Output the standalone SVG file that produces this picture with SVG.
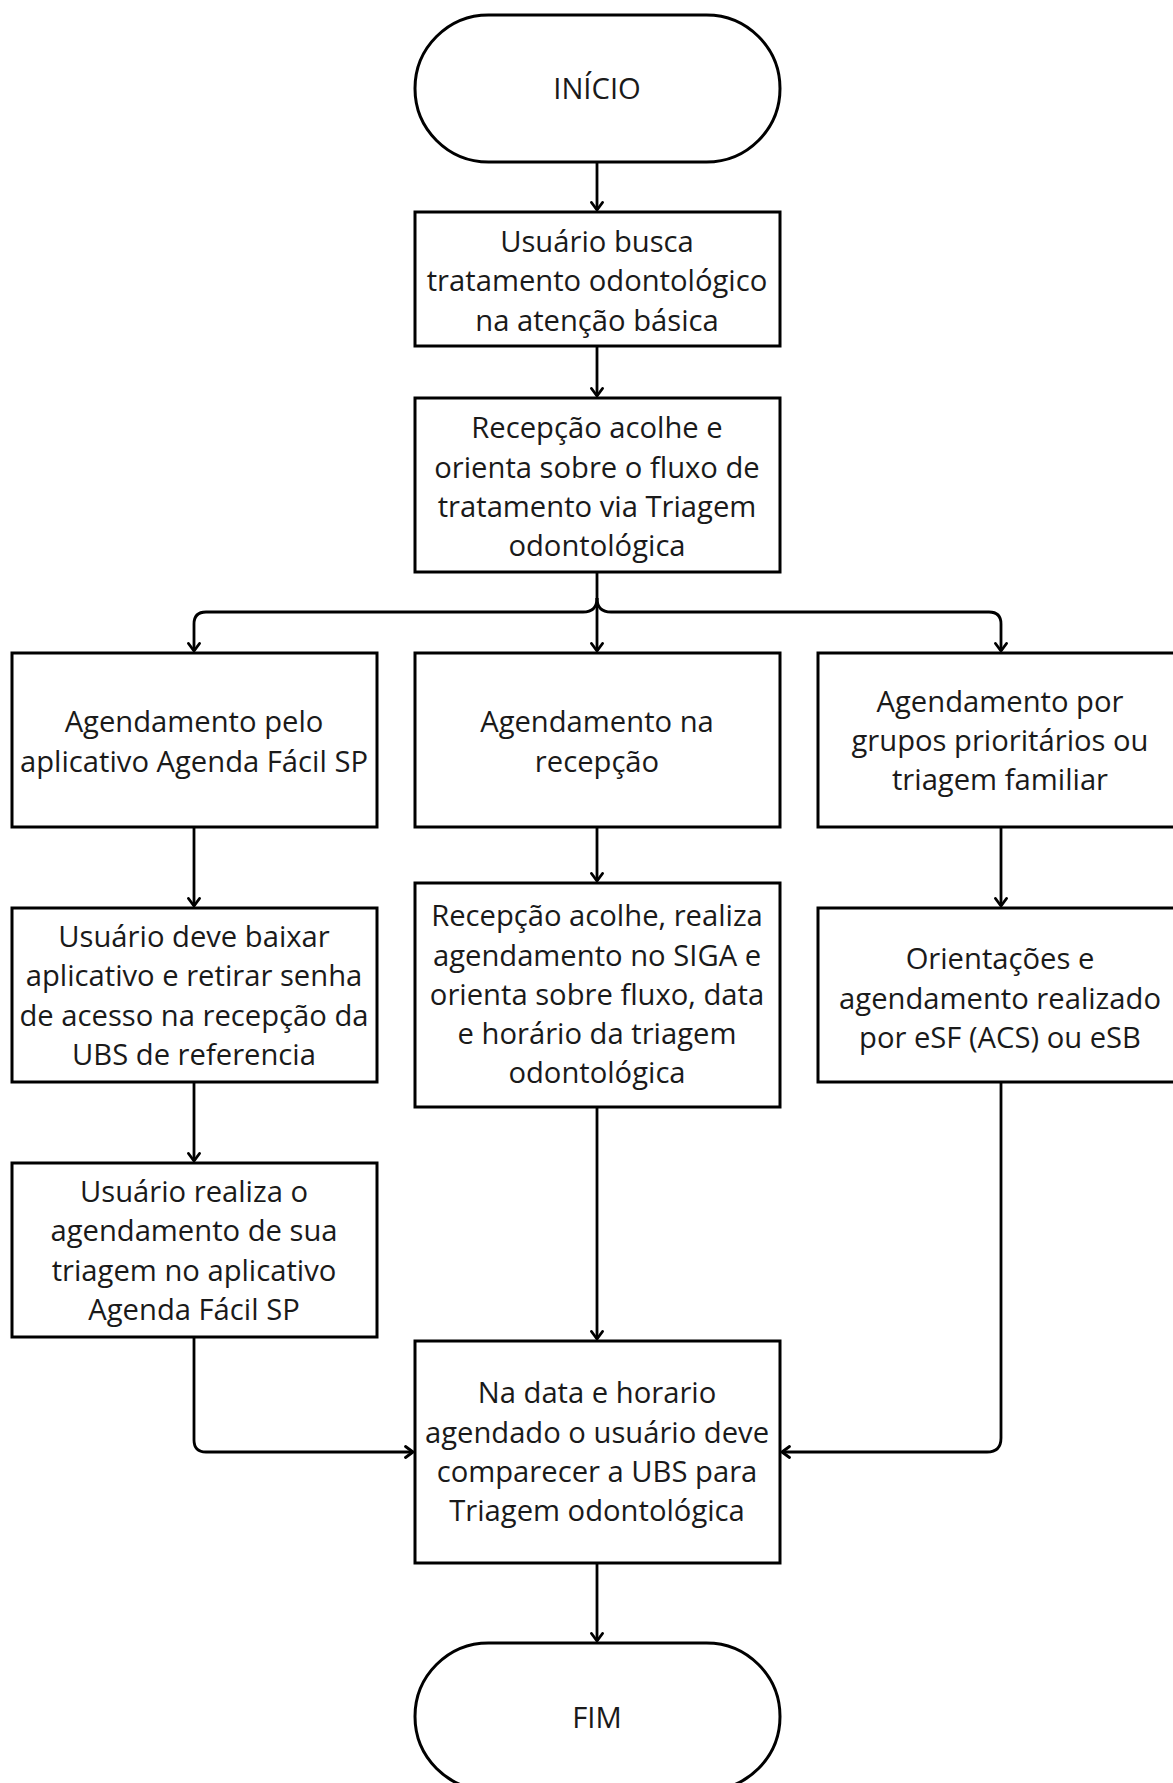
<svg xmlns="http://www.w3.org/2000/svg" width="1173" height="1783" viewBox="0 0 1173 1783">
<style>
.n{fill:#fff;stroke:#000;stroke-width:3}
.t{font-family:"Open Sans","Noto Sans",sans-serif;font-size:29.2px;fill:#1a1a1a;text-anchor:middle}
.c{fill:none;stroke:#000;stroke-width:2.8}
</style>
<defs>
<marker id="ah" viewBox="0 0 14 14" refX="11" refY="7" markerWidth="14" markerHeight="14" markerUnits="userSpaceOnUse" orient="auto">
<path d="M3.5,1.5 L11,7 L3.5,12.5" fill="none" stroke="#000" stroke-width="2.8" stroke-linecap="round" stroke-linejoin="round"/>
</marker>
</defs>
<rect width="1173" height="1783" fill="#fff"/>
<g id="connectors">
<path class="c" d="M597,162 V210" marker-end="url(#ah)"/>
<path class="c" d="M597,346 V396" marker-end="url(#ah)"/>
<path class="c" d="M597,572 V651" marker-end="url(#ah)"/>
<path class="c" d="M597,598 Q597,612 583,612 H206 Q194,612 194,624 V651" marker-end="url(#ah)"/>
<path class="c" d="M597,598 Q597,612 611,612 H989 Q1001,612 1001,624 V651" marker-end="url(#ah)"/>
<path class="c" d="M194,827 V906" marker-end="url(#ah)"/>
<path class="c" d="M597,827 V881" marker-end="url(#ah)"/>
<path class="c" d="M1001,827 V906" marker-end="url(#ah)"/>
<path class="c" d="M194,1082 V1161" marker-end="url(#ah)"/>
<path class="c" d="M597,1107 V1339" marker-end="url(#ah)"/>
<path class="c" d="M194,1337 V1440 Q194,1452 206,1452 H413" marker-end="url(#ah)"/>
<path class="c" d="M1001,1082 V1438 Q1001,1452 987,1452 H782" marker-end="url(#ah)"/>
<path class="c" d="M597,1563 V1641" marker-end="url(#ah)"/>
</g>
<g id="inicio">
<rect class="n" x="415" y="15" width="365" height="147" rx="73.5"/>
<text class="t" x="597" y="99">INÍCIO</text>
</g>
<g id="busca">
<rect class="n" x="415" y="212" width="365" height="134"/>
<text class="t" x="597" y="252">Usuário busca</text>
<text class="t" x="597" y="291">tratamento odontológico</text>
<text class="t" x="597" y="331">na atenção básica</text>
</g>
<g id="recepcao">
<rect class="n" x="415" y="398" width="365" height="174"/>
<text class="t" x="597" y="438">Recepção acolhe e</text>
<text class="t" x="597" y="478">orienta sobre o fluxo de</text>
<text class="t" x="597" y="517">tratamento via Triagem</text>
<text class="t" x="597" y="556">odontológica</text>
</g>
<g id="app">
<rect class="n" x="12" y="653" width="365" height="174"/>
<text class="t" x="194" y="732">Agendamento pelo</text>
<text class="t" x="194" y="772">aplicativo Agenda Fácil SP</text>
</g>
<g id="agrecepcao">
<rect class="n" x="415" y="653" width="365" height="174"/>
<text class="t" x="597" y="732">Agendamento na</text>
<text class="t" x="597" y="772">recepção</text>
</g>
<g id="grupos">
<rect class="n" x="818" y="653" width="365" height="174"/>
<text class="t" x="1000" y="712">Agendamento por</text>
<text class="t" x="1000" y="751">grupos prioritários ou</text>
<text class="t" x="1000" y="790">triagem familiar</text>
</g>
<g id="baixar">
<rect class="n" x="12" y="908" width="365" height="174"/>
<text class="t" x="194" y="947">Usuário deve baixar</text>
<text class="t" x="194" y="986">aplicativo e retirar senha</text>
<text class="t" x="194" y="1026">de acesso na recepção da</text>
<text class="t" x="194" y="1065">UBS de referencia</text>
</g>
<g id="siga">
<rect class="n" x="415" y="883" width="365" height="224"/>
<text class="t" x="597" y="926">Recepção acolhe, realiza</text>
<text class="t" x="597" y="966">agendamento no SIGA e</text>
<text class="t" x="597" y="1005">orienta sobre fluxo, data</text>
<text class="t" x="597" y="1044">e horário da triagem</text>
<text class="t" x="597" y="1083">odontológica</text>
</g>
<g id="orientacoes">
<rect class="n" x="818" y="908" width="365" height="174"/>
<text class="t" x="1000" y="969">Orientações e</text>
<text class="t" x="1000" y="1009">agendamento realizado</text>
<text class="t" x="1000" y="1048">por eSF (ACS) ou eSB</text>
</g>
<g id="realiza">
<rect class="n" x="12" y="1163" width="365" height="174"/>
<text class="t" x="194" y="1202">Usuário realiza o</text>
<text class="t" x="194" y="1241">agendamento de sua</text>
<text class="t" x="194" y="1281">triagem no aplicativo</text>
<text class="t" x="194" y="1320">Agenda Fácil SP</text>
</g>
<g id="comparecer">
<rect class="n" x="415" y="1341" width="365" height="222"/>
<text class="t" x="597" y="1403">Na data e horario</text>
<text class="t" x="597" y="1443">agendado o usuário deve</text>
<text class="t" x="597" y="1482">comparecer a UBS para</text>
<text class="t" x="597" y="1521">Triagem odontológica</text>
</g>
<g id="fim">
<rect class="n" x="415" y="1643" width="365" height="147" rx="73.5"/>
<text class="t" x="597" y="1728">FIM</text>
</g>
</svg>
